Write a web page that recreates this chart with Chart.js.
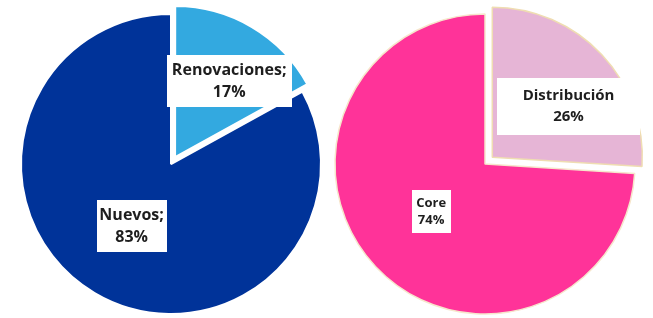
<!DOCTYPE html>
<html>
<head>
<meta charset="utf-8">
<script src="https://cdn.jsdelivr.net/npm/chart.js@4"></script>
<style>
  html, body { margin: 0; padding: 0; background: #ffffff; }
  body { width: 653px; height: 318px; position: relative; overflow: hidden; }
  canvas { position: absolute; top: 0; }
  #c1 { left: 0; }
  #c2 { left: 326px; }
</style>
</head>
<body>
<canvas id="c1" width="326" height="318"></canvas>
<canvas id="c2" width="327" height="318"></canvas>
<script>
// ---- Data (drawn clockwise from 12 o'clock) ----
const leftCategories = ['Renovaciones', 'Nuevos'];
const leftValues = [17, 83];
const rightCategories = ['Distribución', 'Core'];
const rightValues = [26, 74];

// ---- Styles ----
const leftColors = ['#33A9E0', '#003399'];
const rightColors = ['#E6B5D6', '#FF3399'];
// Chart.js translates an arc by offset/4
const leftOffsets = [32, 0];
const rightOffsets = [40, 0];
const leftLabelStyle = [
  { frac: 0.62, nudge: 4.6, w: 125, h: 52, size: 16, lh: 22, sep: ';' },
  { frac: 0.49, nudge: 1.8, w: 70, h: 52, size: 16, lh: 22, sep: ';' }
];
const rightLabelStyle = [
  { frac: 0.61, nudge: 8.6, w: 143, h: 57, size: 15, lh: 21, sep: '' },
  { frac: 0.48, nudge: 1.6, w: 39, h: 43, size: 13, lh: 17, sep: '' }
];

const boxLabels = {
  id: 'boxLabels',
  afterDatasetsDraw(chart, args, opts) {
    const ctx = chart.ctx;
    const meta = chart.getDatasetMeta(0);
    const ds = chart.data.datasets[0];
    const total = ds.data.reduce((a, b) => a + b, 0);
    meta.data.forEach((arc, i) => {
      const st = opts.styles[i];
      const p = arc.getProps(['x', 'y', 'startAngle', 'endAngle', 'outerRadius'], true);
      const off = (arc.options.offset || 0) / 4;
      const mid = (p.startAngle + p.endAngle) / 2 + st.nudge * Math.PI / 180;
      const d = off + st.frac * p.outerRadius;
      const cx = p.x + Math.cos(mid) * d;
      const cy = p.y + Math.sin(mid) * d;
      ctx.save();
      ctx.fillStyle = '#FFFFFF';
      ctx.fillRect(Math.round(cx - st.w / 2), Math.round(cy - st.h / 2), st.w, st.h);
      ctx.fillStyle = '#1E1E1E';
      ctx.font = 'bold ' + st.size + 'px "Open Sans", sans-serif';
      ctx.textAlign = 'center';
      ctx.textBaseline = 'middle';
      const pct = Math.round(ds.data[i] / total * 100) + '%';
      const lines = [chart.data.labels[i] + st.sep, pct];
      lines.forEach((t, k) => {
        ctx.fillText(t, cx, cy + (k - (lines.length - 1) / 2) * st.lh);
      });
      ctx.restore();
    });
  }
};

function makePie(id, labels, values, colors, offsets, borderColors, borderWidth, pad, styles) {
  return new Chart(document.getElementById(id), {
    type: 'pie',
    data: {
      labels: labels,
      datasets: [{
        data: values,
        backgroundColor: colors,
        borderColor: borderColors,
        borderWidth: borderWidth,
        offset: offsets,
        radius: 150,
        clip: false
      }]
    },
    options: {
      responsive: false,
      animation: false,
      devicePixelRatio: 1,
      layout: { padding: pad },
      plugins: {
        legend: { display: false },
        tooltip: { enabled: false },
        boxLabels: { styles: styles }
      }
    },
    plugins: [boxLabels]
  });
}

makePie('c1', leftCategories, leftValues, leftColors, leftOffsets,
  ['#FFFFFF', '#FFFFFF'], 2, { left: 16, right: 0, top: 10, bottom: 0 }, leftLabelStyle);
makePie('c2', rightCategories, rightValues, rightColors, rightOffsets,
  ['#EFDDB2', '#F6E6CC'], 1.5, { left: 0, right: 9, top: 10, bottom: 0 }, rightLabelStyle);
</script>
</body>
</html>
